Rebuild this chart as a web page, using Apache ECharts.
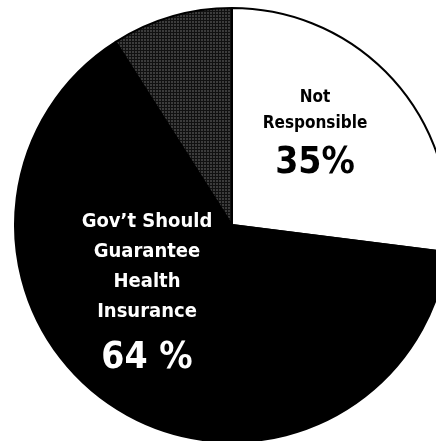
<!DOCTYPE html>
<html>
<head>
<meta charset="utf-8">
<script src="https://cdn.jsdelivr.net/npm/echarts@6/dist/echarts.min.js"></script>
<style>html,body{margin:0;padding:0;background:#fff;}#c{width:436px;height:441px;}</style>
</head>
<body>
<div id="c"></div>
<script>
const categories = ["Not Responsible", "Gov't Should Guarantee Health Insurance", "Other"];
const values = [27, 64, 9];
const labelTitles = [["Not", "Responsible"], ["Gov\u2019t Should", "Guarantee", "Health", "Insurance"], []];
const labelPercents = ["35%", "64 %", ""];

const pat = document.createElement('canvas');
pat.width = 3; pat.height = 3;
const pc = pat.getContext('2d');
pc.fillStyle = '#3c3c3c'; pc.fillRect(0, 0, 3, 3);
pc.fillStyle = '#111'; pc.fillRect(0, 2, 3, 1); pc.fillRect(2, 0, 1, 3);

const colors = ['#ffffff', '#000000', {image: pat, repeat: 'repeat'}];
const labelColors = ['#000', '#fff', '#fff'];
const fontFam = "'Liberation Sans Narrow','DejaVu Sans Condensed','Arial Narrow',sans-serif";

const chart = echarts.init(document.getElementById('c'), null, {renderer: 'canvas'});
chart.setOption({
  animation: false,
  series: [{
    type: 'pie',
    center: [232, 225],
    radius: 217,
    startAngle: 90,
    clockwise: true,
    avoidLabelOverlap: false,
    data: categories.map((n, i) => ({
      name: n,
      value: values[i],
      itemStyle: {color: colors[i], borderColor: '#000', borderWidth: 2},
      label: {
        show: labelPercents[i] !== '',
        position: 'inside',
        color: labelColors[i],
        formatter: labelTitles[i].map(t => '{t|' + t + '}').join('\n') + '\n{p|' + labelPercents[i] + '}',
        rich: {
          t: {fontFamily: fontFam, fontWeight: 'bold', fontSize: i === 0 ? 17 : 20, lineHeight: i === 0 ? 26 : 30, color: labelColors[i], align: 'center'},
          p: {fontFamily: fontFam, fontWeight: 'bold', fontSize: 37, lineHeight: i === 0 ? 52 : 62, color: labelColors[i], align: 'center'}
        }
      }
    })),
    labelLine: {show: false},
    labelLayout: function (p) {
      if (p.dataIndex === 0) return {x: 315, y: 137, align: 'center', verticalAlign: 'middle'};
      if (p.dataIndex === 1) return {x: 147, y: 298, align: 'center', verticalAlign: 'middle'};
      return {};
    },
    emphasis: {disabled: true}
  }]
});
</script>
</body>
</html>
